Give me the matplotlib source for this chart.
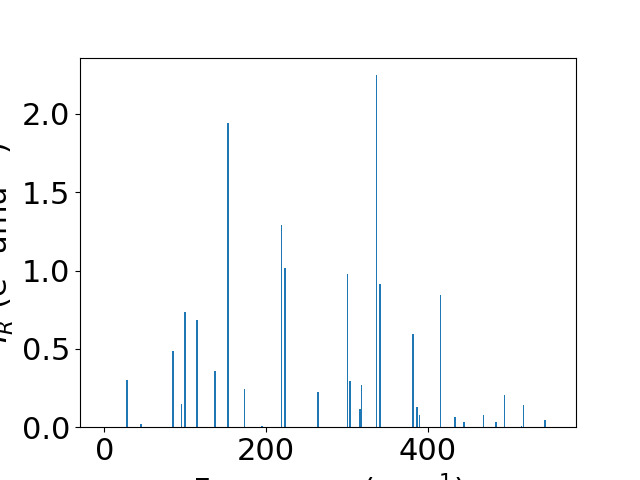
import matplotlib
matplotlib.use("Agg")
import matplotlib.pyplot as plt

frequencies = [28.5, 45.4, 85.0, 95.3, 99.8, 115.0, 136.9, 153.0, 173.2, 195.0,
               219.0, 223.5, 264.3, 300.6, 303.9, 315.9, 317.9, 336.5, 341.0,
               381.8, 386.8, 390.0, 416.0, 433.8, 444.9, 468.8, 484.5, 494.8,
               516.0, 518.7, 545.0]
intensities = [0.301, 0.020, 0.486, 0.148, 0.735, 0.684, 0.359, 1.941, 0.244, 0.008,
               1.290, 1.016, 0.225, 0.978, 0.295, 0.116, 0.269, 2.247, 0.914,
               0.595, 0.128, 0.078, 0.844, 0.065, 0.033, 0.078, 0.033, 0.205,
               0.008, 0.142, 0.046]

plt.rcParams['font.size'] = 22
fig = plt.figure(figsize=(6.4, 4.8), dpi=100)
ax = fig.add_subplot(111)
ax.bar(frequencies, intensities, width=2, color='#1f77b4')
ax.set_xlim(-30, 583.4)
ax.set_xlabel("Frequency (cm$^{-1}$)")
ax.set_ylabel("$I_R$ (e$^2$ amu$^{-1}$)")
fig.savefig("out.png", dpi=100)
